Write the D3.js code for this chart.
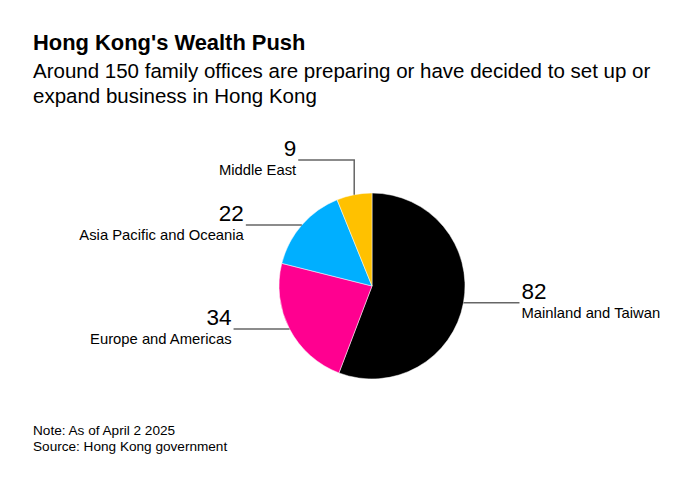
<!DOCTYPE html>
<html>
<head>
<meta charset="utf-8">
<script src="https://cdn.jsdelivr.net/npm/d3@7"></script>
<style>
  body { margin: 0; background: #fff; }
  text { font-family: "Liberation Sans", Arial, sans-serif; fill: #000; }
</style>
</head>
<body>
<svg id="chart" width="693" height="487"></svg>
<script>
const regions = ['Mainland and Taiwan', 'Europe and Americas', 'Asia Pacific and Oceania', 'Middle East'];
const offices = [82, 34, 22, 9];
const colors = ['#000000', '#ff0090', '#00afff', '#ffc100'];

const cx = 372, cy = 286, radius = 93;
const lineLen = 56;

const svg = d3.select('#chart');

svg.append('text')
  .attr('x', 33).attr('y', 50)
  .style('font-size', '21.9px').style('font-weight', 'bold')
  .text("Hong Kong's Wealth Push");

svg.append('text')
  .attr('x', 33).attr('y', 78)
  .style('font-size', '20.5px')
  .text('Around 150 family offices are preparing or have decided to set up or');
svg.append('text')
  .attr('x', 33).attr('y', 103)
  .style('font-size', '20.5px')
  .text('expand business in Hong Kong');

const data = regions.map((r, i) => ({ region: r, value: offices[i], color: colors[i] }));

const pie = d3.pie()
  .sort(null)
  .value(d => d.value);

const arc = d3.arc()
  .innerRadius(0)
  .outerRadius(radius);

const edge = d3.arc()
  .innerRadius(radius)
  .outerRadius(radius);

const g = svg.append('g')
  .attr('transform', 'translate(' + cx + ',' + cy + ')');

const arcs = pie(data);

g.selectAll('path')
  .data(arcs)
  .enter()
    .append('path')
    .attr('fill', d => d.data.color)
    .attr('stroke', '#fff')
    .attr('stroke-width', 0.5)
    .attr('d', arc);

// leader lines + labels
arcs.forEach(d => {
  const p = edge.centroid(d);
  const mid = (d.startAngle + d.endAngle) / 2;
  const right = mid < Math.PI;
  // small top slice gets an elbow up above the pie
  const elbow = d.data.region === 'Middle East';
  let pts, y, xEnd;
  if (elbow) {
    y = -radius - 33;
    xEnd = p[0] - lineLen;
    pts = [[p[0], p[1]], [p[0], y], [xEnd, y]];
  } else {
    y = p[1];
    xEnd = right ? p[0] + lineLen : p[0] - lineLen;
    pts = [[p[0], y], [xEnd, y]];
  }
  g.append('path')
    .attr('d', d3.line()(pts))
    .attr('fill', 'none')
    .attr('stroke', '#666')
    .attr('stroke-width', 1.5);

  const tx = right ? xEnd + 2 : xEnd - 2;
  const anchor = right ? 'start' : 'end';
  g.append('text')
    .attr('x', tx).attr('y', y - 4)
    .attr('text-anchor', anchor)
    .style('font-size', '22.5px')
    .text(d.data.value);
  g.append('text')
    .attr('x', tx).attr('y', y + 15)
    .attr('text-anchor', anchor)
    .style('font-size', '14.8px')
    .text(d.data.region);
});

svg.append('text')
  .attr('x', 33).attr('y', 435)
  .style('font-size', '13.6px')
  .text('Note: As of April 2 2025');
svg.append('text')
  .attr('x', 33).attr('y', 451)
  .style('font-size', '13.6px')
  .text('Source: Hong Kong government');
</script>
</body>
</html>
